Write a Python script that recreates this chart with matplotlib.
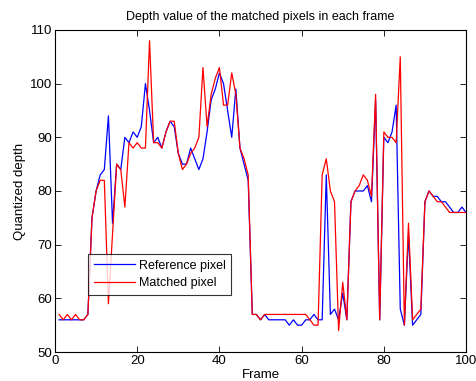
import numpy as np
import matplotlib
matplotlib.use("Agg")
import matplotlib.pyplot as plt

frames = np.arange(1, 101)

# depth of the reference pixel per frame
reference = [56, 56, 56, 56, 56, 56, 56, 57, 75, 80,
             83, 84, 94, 74, 85, 84, 90, 89, 91, 90,
             92, 100, 95, 89, 90, 88, 91, 93, 92, 87,
             85, 85, 88, 86, 84, 86, 91, 97, 99, 102,
             100, 95, 90, 99, 88, 85, 82, 57, 57, 56,
             57, 56, 56, 56, 56, 56, 55, 56, 55, 55,
             56, 56, 57, 56, 56, 83, 57, 58, 56, 61,
             56, 78, 80, 80, 80, 81, 78, 97, 56, 90,
             89, 91, 96, 58, 55, 72, 55, 56, 57, 78,
             80, 79, 79, 78, 78, 77, 76, 76, 77, 76]

# depth of the matched pixel per frame
matched = [57, 56, 57, 56, 57, 56, 56, 57, 75, 80,
           82, 82, 59, 72, 85, 84, 77, 89, 88, 89,
           88, 88, 108, 89, 89, 88, 91, 93, 93, 87,
           84, 85, 87, 88, 90, 103, 92, 98, 101, 103,
           96, 96, 102, 98, 88, 86, 83, 57, 57, 56,
           57, 57, 57, 57, 57, 57, 57, 57, 57, 57,
           57, 56, 55, 55, 83, 86, 80, 78, 54, 63,
           56, 78, 80, 81, 83, 82, 79, 98, 56, 91,
           90, 90, 89, 105, 55, 74, 56, 57, 58, 78,
           80, 79, 78, 78, 77, 76, 76, 76, 76, 76]

plt.rcParams['font.family'] = ['Liberation Sans', 'DejaVu Sans']

fig = plt.figure(figsize=(4.77, 3.81), dpi=100)
ax = fig.add_axes([0.1153, 0.0761, 0.8617, 0.8452])

ax.plot(frames, reference, color=(0, 0, 1), lw=0.9, label="Reference pixel")
ax.plot(frames, matched, color=(1, 0, 0), lw=0.9, label="Matched pixel")

ax.set_xlim(0, 100)
ax.set_ylim(50, 110)
ax.set_xticks(np.arange(0, 101, 20))
ax.set_yticks(np.arange(50, 111, 10))
ax.tick_params(direction='in', length=4, width=0.6, top=True, right=True,
               labelsize=9.5, pad=2)
for s in ax.spines.values():
    s.set_linewidth(0.8)

ax.set_title("Depth value of the matched pixels in each frame", fontsize=9, pad=7)
ax.set_xlabel("Frame", fontsize=9.5, labelpad=1.5)
ax.set_ylabel("Quantized depth", fontsize=9.5, labelpad=3)

leg = ax.legend(loc='lower left', bbox_to_anchor=(0.08, 0.177), fontsize=9,
                frameon=True, fancybox=False, borderaxespad=0,
                handlelength=3.3, handletextpad=0.3, borderpad=0.45,
                labelspacing=0.45)
leg.get_frame().set_edgecolor('black')
leg.get_frame().set_linewidth(0.8)

fig.savefig("out.png", dpi=100)
